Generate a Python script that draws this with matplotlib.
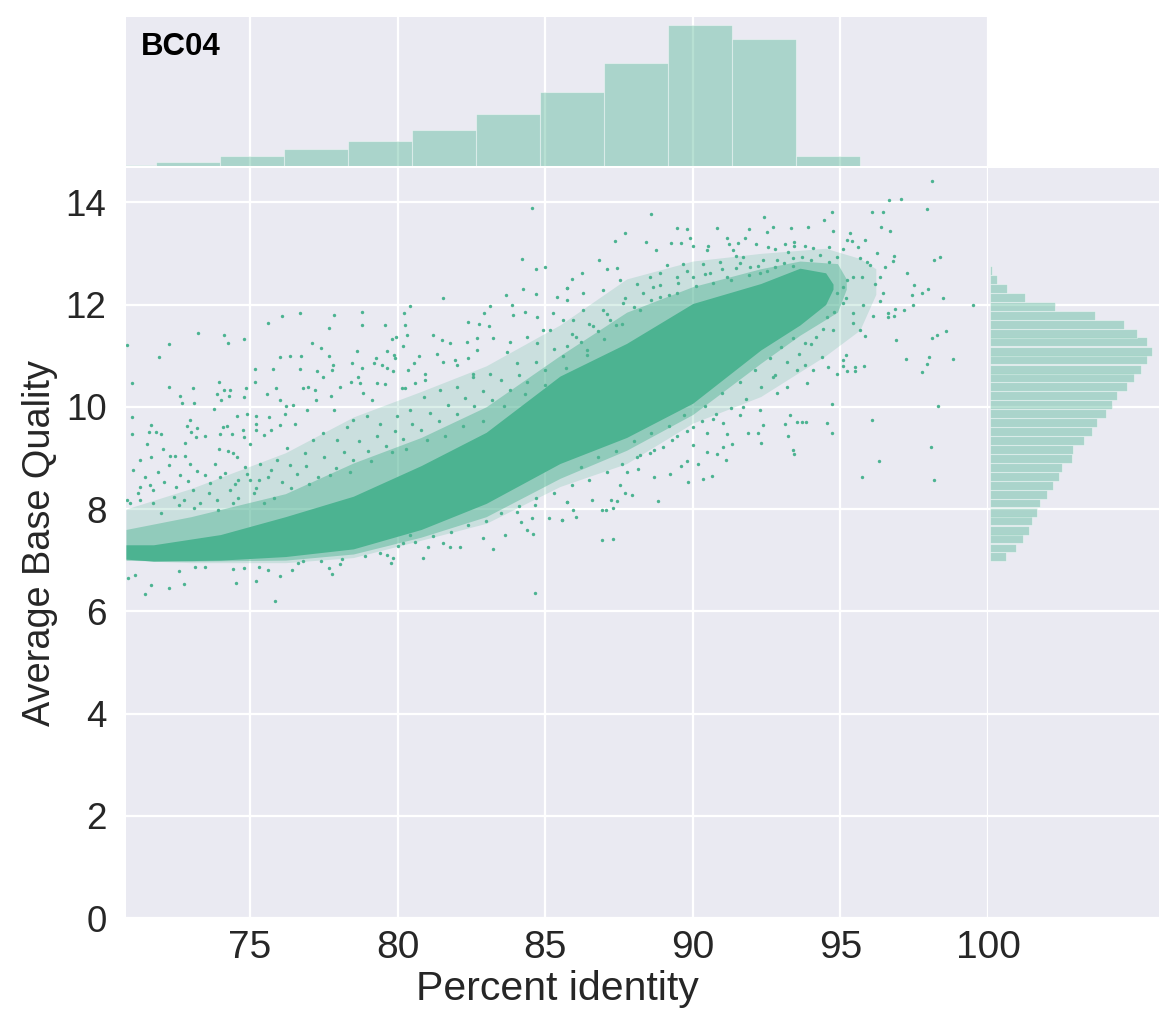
import matplotlib
matplotlib.use("Agg")
import matplotlib.pyplot as plt
import numpy as np

plt.rcParams['font.family'] = ['Liberation Sans', 'DejaVu Sans']

GREEN = '#4cb391'
BACK = '#eaeaf2'

# top histogram (percent identity)
top_edges = [69.64, 71.81, 73.98, 76.15, 78.32, 80.49, 82.66, 84.83, 87.0, 89.17, 91.34, 93.51]
top_counts = [1, 4, 9.7, 17.3, 25, 36.3, 51.6, 73.6, 103.5, 141.5, 127, 9.7]
top_width = 2.168

# right histogram (average base quality), bottom bar first
right_edges = [6.98, 7.15, 7.33, 7.50, 7.68, 7.85, 8.03, 8.20, 8.38, 8.55, 8.73, 8.90, 9.08, 9.25, 9.43,
               9.60, 9.78, 9.95, 10.13, 10.30, 10.48, 10.65, 10.83, 11.00, 11.18, 11.35, 11.53, 11.70,
               11.88, 12.05, 12.23, 12.40, 12.58]
right_counts = [16, 26, 33, 39, 42, 47, 50, 57, 63, 69, 72, 82, 83, 94, 102, 107, 116, 122, 127, 137,
                144, 151, 157, 162, 157, 147, 134, 105, 65, 35, 17, 7, 2]
right_height = 0.1748

# solid part of the point cloud
core_x = [70.8, 71.73, 74.0, 76.2, 78.5, 80.8, 83.0, 85.5, 87.76, 90.0, 92.3, 93.63, 94.5, 94.75]
core_low = [7.02, 6.98, 7.0, 7.07, 7.22, 7.6, 8.11, 8.89, 9.4, 10.07, 11.11, 11.6, 12.0, 12.3]
core_high = [7.3, 7.3, 7.5, 7.85, 8.25, 8.85, 9.5, 10.6, 11.24, 12.02, 12.41, 12.71, 12.62, 12.4]

# denser speckle next to it
inner_x = [70.8, 73.0, 76.2, 78.5, 80.8, 83.0, 85.5, 87.76, 90.0, 92.3, 93.63, 94.9, 95.2]
inner_low = [7.0, 6.98, 7.0, 7.12, 7.45, 7.85, 8.6, 9.15, 9.85, 10.85, 11.4, 11.85, 12.3]
inner_high = [7.6, 7.85, 8.3, 8.9, 9.4, 10.0, 11.0, 11.85, 12.35, 12.7, 12.85, 12.8, 12.5]

# thin speckle further out
outer_x = [70.8, 73.0, 76.2, 78.5, 80.8, 83.0, 85.5, 87.76, 90.0, 92.3, 94.5, 95.66, 96.2]
outer_low = [7.0, 6.95, 6.95, 7.05, 7.39, 7.72, 8.44, 8.89, 9.68, 10.2, 11.0, 11.5, 12.2]
outer_high = [8.0, 8.4, 9.1, 9.8, 10.3, 10.8, 11.6, 12.5, 12.85, 13.0, 13.1, 12.9, 12.7]

# single points
points = [
    (84.55,13.88),(84.2,12.89),(84.69,12.7),(84.99,12.73),(81.55,12.12),(80.42,11.98),(83.68,12.19),(84.26,12.31),
    (84.69,12.2),(83.13,11.97),(83.88,11.99),(80.22,11.83),(78.8,11.85),(77.85,11.79),(76.7,11.83),(76.1,11.77),
    (75.61,11.64),(78.8,11.6),(79.57,11.6),(77.66,11.54),(80.25,11.6),(73.25,11.44),(74.12,11.4),(74.8,11.33),
    (74.27,11.25),(70.85,11.2),(72.25,11.22),(71.93,10.97),(77.1,11.24),(77.42,11.14),(76.02,10.98),(76.36,11.0),
    (76.72,11.0),(77.69,11.0),(78.64,11.1),(75.18,10.74),(75.79,10.73),(76.7,10.73),(77.26,10.7),(77.78,10.71),
    (77.8,10.82),(77.47,10.58),(78.45,10.85),(78.79,10.76),(79.27,10.95),(79.2,10.86),(79.46,10.82),(79.63,11.09),
    (79.88,11.01),(79.92,10.95),(79.63,10.75),(79.86,10.7),(80.36,10.71),(79.8,11.32),(79.95,11.37),(80.33,11.4),
    (80.18,11.18),(80.71,11.0),(80.54,10.86),(81.33,11.03),(81.19,11.4),(81.5,11.3),(81.78,11.24),(82.38,11.66),
    (82.94,11.84),(82.77,11.61),(83.11,11.57),(82.34,11.27),(82.68,11.34),(83.22,11.34),(83.81,11.27),(83.7,11.08),
    (82.68,11.11),(81.95,10.91),(82.0,10.82),(81.53,10.88),(80.93,10.65),(82.4,10.95),(82.57,10.65),
    (71.01,10.47),(73.95,10.49),(72.24,10.39),(72.63,10.22),(73.08,10.36),(72.71,10.08),(73.11,10.07),(73.87,10.25),
    (74.13,10.33),(74.33,10.33),(74.28,10.22),(74.02,10.14),(74.87,10.37),(74.8,10.2),(75.17,10.49),(75.57,10.25),
    (75.88,10.36),(76.0,10.13),(73.78,9.96),(71.01,9.79),(74.56,9.82),(74.91,9.85),(75.2,9.82),(75.66,9.79),
    (76.22,10.02),(76.47,10.03),(76.19,9.85),(76.53,9.66),(76.92,9.94),(76.81,10.36),(76.98,10.39),(77.21,10.33),
    (77.24,10.13),(77.74,10.21),(78.05,10.39),(78.41,10.49),(78.67,10.59),(78.73,10.46),(78.84,10.26),(79.13,10.13),
    (79.29,10.46),(79.58,10.44),(80.14,10.36),(80.25,10.36),(80.59,10.46),(80.93,10.52),(71.64,9.64),(72.86,9.63),
    (72.97,9.74),(73.2,9.58),(72.99,9.51),(73.46,9.43),(73.17,9.4),(73.99,9.47),(74.1,9.61),(74.21,9.62),
    (74.38,9.46),(74.78,9.55),(74.8,9.4),(75.2,9.67),(75.2,9.55),(75.46,9.45),(75.7,9.55),(76.02,9.64),
    (71.01,9.47),(71.59,9.51),(71.82,9.5),(71.98,9.46),(71.5,9.28),(72.8,9.3),(72.07,9.18),(73.95,9.17),
    (75.0,9.27),(74.27,9.13),(74.42,9.09),(74.55,9.02),(71.64,9.02),(72.29,9.04),(72.46,9.04),(72.8,9.04),
    (84.64,6.35),(75.85,6.21),(71.44,6.34),(71.64,6.52),(72.26,6.46),(72.75,6.54),(74.52,6.55),(75.21,6.59),
    (76.02,6.68),(70.88,6.65),(71.11,6.7),(72.61,6.78),(73.14,6.86),(73.46,6.86),(74.44,6.83),(74.8,6.84),
    (75.29,6.86),(75.62,6.81),(76.42,6.81),(76.64,6.94),(77.68,6.85),(77.79,6.73),(78.05,6.92),(79.77,6.94),
    (79.84,7.04),(80.85,7.04),(81.04,7.25),(81.78,7.26),(82.12,7.26),(83.22,7.22),(81.55,7.34),(82.91,7.43),
    (83.64,7.5),(84.38,7.59),(84.6,7.51),(84.18,7.74),(84.55,7.82),(85.13,7.82),(85.56,7.79),(85.73,8.14),
    (84.66,8.08),(84.04,7.95),(80.42,7.49),(80.2,7.33),(79.63,7.1),
    (98.1,14.42),(97.04,14.07),(96.65,14.04),(97.92,13.87),(96.06,13.81),(96.45,13.8),(94.7,13.8),(88.58,13.78),
    (92.41,13.71),(94.45,13.65),(96.37,13.52),(96.68,13.44),(92.73,13.52),(93.91,13.52),(93.31,13.49),(94.74,13.44),
    (95.32,13.4),(90.81,13.5),(91.91,13.47),(89.45,13.49),(89.79,13.47),(92.52,13.42),(87.72,13.39),(87.36,13.24),
    (88.41,13.23),(89.26,13.2),(89.6,13.21),(89.9,13.3),(90.02,13.14),(91.17,13.31),(91.77,13.31),(91.24,13.18),
    (91.54,13.2),(92.14,13.18),(88.77,13.07),(90.52,13.14),(90.47,13.07),(91.37,13.07),(91.48,12.95),(91.71,12.93),
    (92.56,13.12),(92.78,13.09),(93.12,13.18),(93.44,13.23),(93.44,13.14),(93.8,13.14),(93.23,13.03),(94.08,13.1),
    (94.62,13.13),(95.1,13.08),(95.23,13.26),(95.38,13.25),(95.83,13.26),(95.58,13.12),(96.23,13.01),(96.83,12.95),
    (96.79,12.85),(98.18,12.87),(98.37,12.92),(86.83,12.88),(87.11,12.69),(87.42,12.71),(86.23,12.61),(85.9,12.49),
    (85.73,12.32),(97.24,12.61),(97.5,12.39),(97.96,12.3),(97.75,12.22),(97.42,12.19),(98.49,12.13),(97.47,12.0),
    (99.5,12.0),(96.85,11.92),(97.15,11.89),(96.62,11.84),(96.83,11.78),(96.62,11.75),(96.11,11.77),(96.34,12.07),
    (96.45,12.22),(96.51,12.74),(96.34,12.54),(96.17,12.41),(98.58,11.49),(98.26,11.4),(98.09,11.35),(96.9,11.31),
    (95.85,11.38),(98.82,10.93),(97.21,10.93),(98.01,10.97),(97.95,10.84),(97.75,10.67),(95.19,11.01),(95.1,10.91),
    (95.1,10.8),(95.23,10.69),(95.49,10.78),(95.49,10.7),(95.81,10.8),(94.87,10.64),(98.29,10.02),(94.7,10.05),
    (96.06,9.75),(94.53,9.68),(94.7,9.48),(98.06,9.21),(96.32,8.94),(95.72,8.63),(98.17,8.57),(93.83,9.7),
    (93.69,9.7),(93.54,9.71),(93.29,9.83),(93.12,9.66),(93.23,9.43),(93.38,9.15),(93.43,9.07),(92.31,9.3),
    (92.22,9.48),(92.39,9.64),(91.86,9.48),(91.34,9.28),(91.15,9.46),(91.01,9.22),(90.81,9.08),(91.12,8.96),
    (90.47,9.11),(90.19,8.88),(89.79,8.93),(89.59,8.84),(90.64,8.65),(90.36,8.58),(89.85,8.53),(89.23,8.68),
    (88.7,8.63),(88.15,8.78),(87.76,8.73),(87.93,8.27),(87.72,8.32),(87.53,8.47),(88.83,8.16),(87.44,8.16),
    (87.23,8.18),(86.6,8.18),(85.73,8.14),(86.91,7.98),(87.06,7.98),(87.31,8.01),(85.95,7.99),(86.06,7.85),
    (85.56,7.79),(86.91,7.39),(87.31,7.41),
    (95.21,12.48),(95.44,12.54),(95.72,12.54),(95.89,12.84),(96.0,12.77),(95.66,12.9),(95.1,12.35),(94.87,12.22),
    (95.1,12.02),(95.44,11.83),(95.78,11.99),(95.44,11.63),(95.66,11.5),(94.76,11.5),(94.53,11.76),(94.19,11.37),
    (93.8,11.24),(94.36,10.98),(94.08,10.72),(94.59,10.78),(93.8,10.82),(93.86,10.46),(93.52,10.72),(93.18,10.39),
    (92.73,10.59),(92.84,10.26),(92.28,9.94),(91.71,10.0),(91.6,9.84),(91.03,9.68),(90.69,9.77),(90.47,9.48),
    (90.02,9.61),(90.02,9.25),(89.45,9.42),(89.0,9.22),(88.55,9.09),(88.1,9.02),
    (86.29,12.22),(85.73,12.09),(86.97,12.28),(87.53,12.48),(88.1,12.41),(88.55,12.54),(88.89,12.61),(88.66,12.35),
    (89.11,12.77),(89.68,12.8),(89.45,12.54),(90.02,12.54),(90.36,12.8),(90.92,12.84),(90.58,12.61),(91.48,12.71),
    (91.15,12.54),(91.94,12.74),(92.39,12.87),(92.84,12.87),(93.4,12.9),(92.28,12.61),(86.29,11.89),(85.95,11.7),
    (86.97,11.89),(87.65,12.02),(88.21,11.89),(86.63,11.57),(86.06,11.37),(87.19,11.7),(88.89,12.15),(89.45,12.22),
    (85.73,11.18),(86.4,11.11),
    (71.05,8.76),(71.28,8.96),(71.45,8.63),(71.9,8.73),(72.24,8.86),(72.63,8.66),(72.97,8.89),(73.48,8.66),
    (73.82,8.89),(74.16,8.7),(74.61,8.57),(74.83,8.83),(75.34,8.89),(75.62,8.63),(75.91,8.96),(76.36,8.86),
    (76.25,9.19),(76.87,9.09),(77.15,9.35),(77.49,9.48),(77.94,9.35),(78.28,9.61),(77.83,9.94),(78.5,9.74),
    (78.96,9.81),(79.41,9.67),(79.97,9.81),(80.42,9.94),(80.88,10.2),(81.44,10.33),(82.0,10.39),(82.57,10.59),
    (83.13,10.65),(84.04,10.85),(84.72,11.24),(85.17,11.5),(85.62,11.7),(85.28,11.83),(84.94,11.5),(84.38,11.37),
    (85.39,12.15),(85.73,12.32),(84.72,11.76),(83.92,11.79),(84.32,11.86),
    (70.94,8.11),(70.83,8.18),(71.28,8.18),(71.73,8.11),(72.41,8.24),(72.75,8.18),(73.31,8.11),(73.87,8.18),
    (74.44,8.11),(75.12,8.31),(75.46,8.11),(71.28,8.44),(71.73,8.37),(73.08,8.37),(73.65,8.5),(74.33,8.37),
    (75.0,8.57),
    (71.2,8.31),(71.6,8.47),(72.1,8.52),(72.5,8.43),(72.9,8.55),(73.2,8.74),(73.6,8.31),(74.0,8.62),(74.5,8.48),
    (74.9,8.69),(75.2,8.42),(75.7,8.76),(76.1,8.52),(76.6,8.68),(76.9,8.84),(77.3,8.62),(77.5,9.02),(77.9,8.81),
    (78.2,9.12),(78.5,8.95),(78.7,9.33),(79.0,9.14),(79.3,9.42),(79.6,9.23),(79.9,9.52),(80.2,9.36),(80.5,9.66),
    (80.8,9.55),(81.1,9.87),(81.4,9.72),(81.7,10.03),(82.0,9.86),(82.3,10.18),(82.6,10.02),(82.9,10.31),
    (83.2,10.14),(83.5,10.52),(83.8,10.33),(84.1,10.63),(84.4,10.48),(84.7,10.88),(85.0,10.71),(85.3,11.12),
    (85.6,11.0),(85.9,11.43),(86.2,11.26),(86.5,11.62),(86.8,11.48),(87.1,11.82),(87.4,11.6),(87.7,12.13),
    (88.0,11.95),(88.3,12.22),(88.6,12.08),(88.9,12.38),(89.2,12.18),(89.5,12.42),(89.8,12.66),(90.1,12.37),
    (90.4,12.59),(90.7,12.43),(91.0,12.7),(91.3,12.48),(91.6,12.82),(91.9,12.58),(92.2,12.76),(92.5,12.66),
    (92.8,12.74),(93.1,12.81),(93.4,12.76),(93.7,12.92),(94.0,12.88),(94.3,12.97),(94.6,12.84),(94.9,12.92),
    (72.0,7.92),(72.6,8.07),(73.1,8.02),(73.9,7.98),(74.6,8.22),(75.3,8.56),(75.8,8.22),(76.4,8.41),(77.0,8.48),
    (77.7,8.67),(78.4,8.72),(79.1,8.93),(79.8,9.12),(80.3,9.17),(81.0,9.34),(81.6,9.43),(82.2,9.62),(82.9,9.73),
    (83.6,10.02),(84.3,10.24),(85.0,10.42),(85.7,10.75),(86.4,11.02),(87.0,11.32),(87.6,11.62),
    (76.8,6.98),(77.4,6.99),(78.1,7.02),(78.9,7.08),(79.4,7.14),(80.0,7.28),(80.6,7.36),(81.2,7.48),(81.8,7.55),
    (82.4,7.68),(83.0,7.76),(83.5,7.92),(84.1,8.06),(84.7,8.22),(85.3,8.32),(85.9,8.47),(86.5,8.56),(87.1,8.72),
    (87.6,8.88),(88.2,9.06),(88.7,9.16),(89.3,9.34),(89.8,9.52),(90.3,9.73),(90.8,9.86),(91.3,9.98),(91.8,10.16),
    (92.3,10.38),(92.8,10.62),(93.2,10.88),(93.6,11.04),(94.0,11.22),(94.4,11.52),(94.8,11.86),(95.2,12.12),
    (86.2,8.83),(86.8,9.02),(87.4,9.14),(88.0,9.33),(88.6,9.48),(89.2,9.62),(89.7,9.83),(90.4,10.02),(91.0,10.26),
    (91.6,10.48),(92.1,10.72),(92.6,10.96),(93.0,11.16),(93.4,11.34),
]

x_ticks = [75, 80, 85, 90, 95, 100]
y_ticks = [0, 2, 4, 6, 8, 10, 12, 14]
x_lim = (70.8, 100)
y_lim = (0, 14.67)

W, H = 1159.0, 1014.0
def box(left, top, right, bottom):
    return [left/W, 1-bottom/H, (right-left)/W, (bottom-top)/H]

fig = plt.figure(figsize=(11.59, 10.14), dpi=100)
ax = fig.add_axes(box(126, 168, 988, 918))
ax_top = fig.add_axes(box(126, 17, 988, 166))
ax_right = fig.add_axes(box(988, 168, 1159, 918))

for a in (ax, ax_top, ax_right):
    a.set_facecolor(BACK)
    a.set_axisbelow(True)
    for s in a.spines.values():
        s.set_visible(False)
    a.tick_params(length=0)

# main scatter
ax.grid(color='white', lw=1.6)
ax.fill_between(outer_x, outer_low, outer_high, color=GREEN, alpha=0.2, lw=0)
ax.fill_between(inner_x, inner_low, inner_high, color=GREEN, alpha=0.45, lw=0)
ax.fill_between(core_x, core_low, core_high, color=GREEN, lw=0)
pts = np.array(points)
ax.scatter(pts[:, 0], pts[:, 1], s=6, color=GREEN, linewidths=0)
ax.set_xlim(x_lim)
ax.set_ylim(y_lim)
ax.set_xticks(x_ticks)
ax.set_yticks(y_ticks)
ax.tick_params(labelcolor='#262626')
ax.tick_params(axis='x', labelsize=28, pad=9)
ax.tick_params(axis='y', labelsize=26.5, pad=14)
for line in ax.get_xgridlines()+ax.get_ygridlines():
    line.set_clip_on(False)
ax.set_xlabel('Percent identity', fontsize=29.5, color='#262626')
ax.xaxis.set_label_coords(0.5, -0.069)
ax.set_ylabel('Average Base Quality', fontsize=27.3, color='#262626')
ax.yaxis.set_label_coords(-0.079, 0.5)

# top histogram
ax_top.grid(axis='x', color='white', lw=1.6)
ax_top.bar(top_edges, top_counts, width=top_width, align='edge', color=GREEN, alpha=0.4,
           edgecolor='white', linewidth=0.8)
ax_top.set_xlim(x_lim)
ax_top.set_ylim(0, 149)
ax_top.set_xticks(x_ticks)
ax_top.set_yticks([])
ax_top.tick_params(labelbottom=False)
ax_top.text(71.3, 119, 'BC04', fontsize=22.5, fontweight='bold', color='black', va='center')

# right histogram
ax_right.grid(axis='y', color='white', lw=1.6)
ax_right.barh(right_edges, right_counts, height=right_height, align='edge', color=GREEN, alpha=0.4,
              edgecolor='white', linewidth=0.8)
ax_right.set_xlim(-2, 169)
ax_right.set_ylim(y_lim)
ax_right.set_yticks(y_ticks)
ax_right.set_xticks([])
ax_right.tick_params(labelleft=False)

fig.savefig('out.png', dpi=100)
